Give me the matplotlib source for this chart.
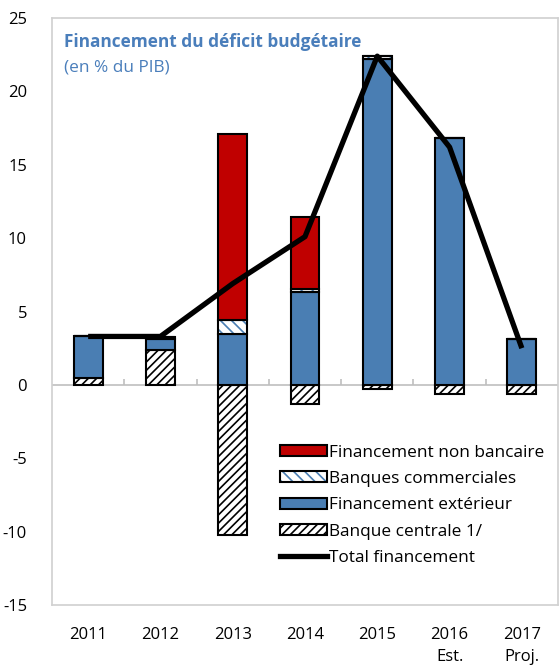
import matplotlib
matplotlib.use("Agg")
import matplotlib.pyplot as plt
import numpy as np
from matplotlib.patches import Patch
from matplotlib.lines import Line2D
from matplotlib.legend_handler import HandlerTuple

plt.rcParams['font.family'] = ['Open Sans', 'DejaVu Sans']
plt.rcParams['hatch.linewidth'] = 1.2
plt.rcParams['axes.unicode_minus'] = False

years = ["2011", "2012", "2013", "2014", "2015", "2016\nEst.", "2017\nProj."]
banque_centrale = [0.5, 2.35, -10.2, -1.3, -0.25, -0.6, -0.6]
financement_exterieur = [2.8, 0.75, 3.5, 6.35, 22.2, 16.8, 3.1]
banques_commerciales = [0.0, 0.15, 0.9, 0.2, 0.2, 0.0, 0.0]
financement_non_bancaire = [0.0, 0.0, 12.7, 4.9, 0.0, 0.0, 0.0]
total_financement = [3.3, 3.3, 6.9, 10.1, 22.4, 16.2, 2.5]

BLUE = '#4A7EB3'
RED = '#C00000'
TITLE_BLUE = '#4A7EBB'

fig = plt.figure(figsize=(5.6, 6.66), dpi=100)
ax = fig.add_axes([52/560, 1-605/666, (558-52)/560, (605-18)/666])

x = np.arange(len(years))
w = 0.4
pos_bottom = np.zeros(len(years))
neg_bottom = np.zeros(len(years))

def stack(vals):
    vals = np.array(vals, dtype=float)
    bottoms = np.where(vals >= 0, pos_bottom, neg_bottom)
    pos_bottom[:] = pos_bottom + np.where(vals >= 0, vals, 0)
    neg_bottom[:] = neg_bottom + np.where(vals < 0, vals, 0)
    return vals, bottoms

# Banque centrale
v, b = stack(banque_centrale)
ax.bar(x, v, w, bottom=b, facecolor='white', edgecolor='black', hatch='////', linewidth=1.5, zorder=2)
# Financement exterieur
v, b = stack(financement_exterieur)
ax.bar(x, v, w, bottom=b, facecolor=BLUE, edgecolor='black', linewidth=1.5, zorder=2)
# Banques commerciales
v, b = stack(banques_commerciales)
ax.bar(x, v, w, bottom=b, facecolor='white', edgecolor=BLUE, hatch='\\\\\\', linewidth=0, zorder=2)
ax.bar(x, v, w, bottom=b, facecolor='none', edgecolor='black', linewidth=1.5, zorder=2)
# Financement non bancaire
v, b = stack(financement_non_bancaire)
ax.bar(x, v, w, bottom=b, facecolor=RED, edgecolor='black', linewidth=1.5, zorder=2)

ax.plot(x, total_financement, color='black', linewidth=3.8, zorder=3, solid_capstyle='butt')

ax.axhline(0, color='#BFBFBF', linewidth=1.2, zorder=1)
ax.vlines(np.arange(len(years) - 1) + 0.5, 0, 0.4, color='#BFBFBF', linewidth=1.2, zorder=1)

ax.set_xlim(-0.5, len(years) - 0.5)
ax.set_ylim(-15, 25)
ax.set_yticks(np.arange(-15, 26, 5))
ax.set_xticks(x)
ax.set_xticklabels(years, linespacing=1.5)
ax.tick_params(axis='both', length=0, labelsize=12, colors='black')
ax.tick_params(axis='x', pad=16)
ax.tick_params(axis='y', pad=18)
for s in ax.spines.values():
    s.set_color('#D0D0D0')
    s.set_linewidth(1.2)

ax.text(12/506, 1-24/587, "Financement du déficit budgétaire", transform=ax.transAxes,
        fontsize=12.4, fontweight='bold', color=TITLE_BLUE, va='center', ha='left')
ax.text(12/506, 1-49/587, "(en % du PIB)", transform=ax.transAxes,
        fontsize=12.4, color=TITLE_BLUE, va='center', ha='left')

h_nb = Patch(facecolor=RED, edgecolor='black', linewidth=1.5)
h_bc1 = Patch(facecolor='white', edgecolor=BLUE, hatch='\\\\\\', linewidth=0)
h_bc2 = Patch(facecolor='none', edgecolor='black', linewidth=1.5)
h_fe = Patch(facecolor=BLUE, edgecolor='black', linewidth=1.5)
h_cb = Patch(facecolor='white', edgecolor='black', hatch='////', linewidth=1.5)
h_tot = Line2D([], [], color='black', linewidth=3.8)
leg = ax.legend([h_nb, (h_bc1, h_bc2), h_fe, h_cb, h_tot],
                ["Financement non bancaire", "Banques commerciales", "Financement extérieur",
                 "Banque centrale 1/", "Total financement"],
                handler_map={tuple: HandlerTuple(ndivide=1, pad=0)},
                loc='lower left', bbox_to_anchor=((280-52)/506, (605-566)/587),
                frameon=False, fontsize=12.4, handlelength=2.7, handleheight=0.6,
                handletextpad=0.15, labelspacing=0.6, borderaxespad=0, borderpad=0)

fig.savefig("out.png", dpi=100)
